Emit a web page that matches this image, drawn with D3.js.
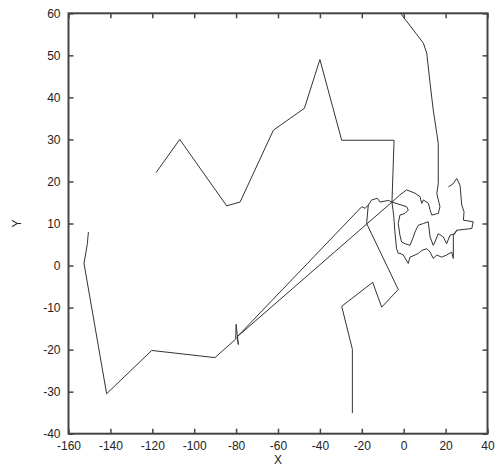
<!DOCTYPE html>
<html>
<head>
<meta charset="utf-8">
<script src="https://cdn.jsdelivr.net/npm/d3@7"></script>
<style>
  body { margin: 0; background: #fff; }
  svg { display: block; font-family: "Liberation Sans", Arial, sans-serif; }
  .frame { fill: none; stroke: #444; stroke-width: 2; }
  .axis path { display: none; }
  .axis line { stroke: #444; stroke-width: 1.5; }
  .axis text { fill: #222; font-size: 12px; }
  .track { fill: none; stroke: #333; stroke-width: 1; stroke-linejoin: round; }
</style>
</head>
<body>
<svg id="chart" width="495" height="476"></svg>
<script>
// tick values
var xTicks = [-160, -140, -120, -100, -80, -60, -40, -20, 0, 20, 40];
var yTicks = [-40, -30, -20, -10, 0, 10, 20, 30, 40, 50, 60];

// tracks, [x, y]
var upperLoop = [[-118.2, 22.1], [-106.9, 30.0], [-84.5, 14.2], [-78.1, 15.1], [-62.2, 32.2],
  [-47.4, 37.4], [-40.0, 49.0], [-29.6, 29.8], [-4.6, 29.8], [-5.6, 15.1], [-4.8, 12.0],
  [-4.2, 8.0], [-3.4, 4.0], [-2.6, 2.9], [-1.8, 2.9], [-0.2, 2.5], [2.2, 0.5], [3.0, 2.0],
  [5.4, 2.5], [7.0, 2.9], [8.6, 3.6], [11.0, 4.0], [12.6, 3.2], [14.1, 1.7], [15.8, 2.5],
  [18.1, 2.0], [20.5, 2.5], [22.9, 3.2], [23.7, 1.7], [23.7, 7.2], [25.3, 8.4], [32.5, 8.8],
  [33.2, 10.4], [28.5, 10.8], [28.8, 12.8], [27.7, 14.4], [26.9, 19.1], [25.3, 20.7],
  [23.5, 19.4], [21.3, 18.7]];

var rightCurve = [[-1.5, 60.0], [9.4, 52.9], [11.0, 50.5], [12.6, 43.3], [14.1, 37.0],
  [15.8, 31.4], [16.5, 29.0], [16.5, 19.5], [15.8, 17.1], [17.3, 14.0], [16.5, 12.4],
  [13.4, 12.0], [12.6, 13.2], [11.8, 14.8], [9.4, 15.6], [8.6, 14.8], [7.8, 16.4],
  [5.4, 17.2], [1.4, 18.0], [-1.8, 16.8], [-5.6, 15.1]];

var lowerLeft = [[-150.5, 8.0], [-151.0, 5.2], [-152.6, 0.5], [-141.8, -30.5],
  [-120.3, -20.2], [-90.1, -21.9], [-80.2, -17.5], [-80.0, -14.0], [-78.9, -18.8],
  [-79.6, -17.0], [-5.6, 15.1]];

var lowerRight = [[-79.6, -17.0], [-20.0, 14.0], [-18.4, 13.6], [-16.9, 14.4], [-17.7, 10.0],
  [-2.6, -5.7], [-10.5, -9.9], [-14.8, -4.0], [-29.6, -9.7], [-24.5, -19.9], [-24.5, -35.1]];

var shortLink = [[-16.9, 14.4], [-15.3, 15.6], [-12.6, 16.0], [-11.3, 15.1], [-7.3, 15.5],
  [-5.6, 15.1]];

var innerLoop = [[-5.6, 15.1], [1.4, 14.0], [2.2, 13.2], [0.6, 12.4], [-1.8, 12.0],
  [-2.6, 10.0], [-1.8, 7.2], [-1.0, 5.6], [0.6, 5.2], [3.0, 4.8], [4.6, 6.8], [5.4, 8.0],
  [7.0, 9.6], [9.4, 10.0], [11.7, 10.4], [12.6, 6.8], [14.1, 4.8], [14.9, 5.6], [16.5, 7.6],
  [18.9, 6.8], [20.5, 5.2], [22.1, 7.2], [24.5, 7.6], [25.3, 8.4]];

var tracks = [upperLoop, rightCurve, lowerLeft, lowerRight, shortLink, innerLoop];

var plotLeft = 68.5, plotRight = 487.5, plotTop = 13.3, plotBottom = 433.7;

var x = d3.scaleLinear().domain([-160, 40]).range([plotLeft, plotRight]);
var y = d3.scaleLinear().domain([-40, 60]).range([plotBottom, plotTop]);

var svg = d3.select("#chart");
svg.append("rect").attr("width", 495).attr("height", 476).attr("fill", "#fff");

var line = d3.line()
  .x(function(d){ return x(d[0]); })
  .y(function(d){ return y(d[1]); });

svg.selectAll("path.track")
  .data(tracks)
  .enter().append("path")
  .attr("class", "track")
  .attr("d", line);

function fmt(d){ return d < 0 ? "-" + Math.abs(d) : String(d); }

svg.append("g").attr("class", "axis")
  .attr("transform", "translate(0," + plotBottom + ")")
  .call(d3.axisBottom(x).tickValues(xTicks).tickSize(-5).tickPadding(8).tickFormat(fmt));
svg.append("g").attr("class", "axis")
  .attr("transform", "translate(0," + plotTop + ")")
  .call(d3.axisTop(x).tickValues(xTicks).tickSize(-5).tickFormat(""));
svg.append("g").attr("class", "axis")
  .attr("transform", "translate(" + plotLeft + ",0)")
  .call(d3.axisLeft(y).tickValues(yTicks).tickSize(-5).tickPadding(8).tickFormat(fmt));
svg.append("g").attr("class", "axis")
  .attr("transform", "translate(" + plotRight + ",0)")
  .call(d3.axisRight(y).tickValues(yTicks).tickSize(-5).tickFormat(""));

svg.append("rect").attr("class", "frame")
  .attr("x", plotLeft).attr("y", plotTop)
  .attr("width", plotRight - plotLeft).attr("height", plotBottom - plotTop);

svg.append("text")
  .attr("x", (plotLeft + plotRight) / 2).attr("y", 464)
  .attr("text-anchor", "middle")
  .style("font-size", "12px").style("fill", "#222")
  .text("X");

svg.append("text")
  .attr("transform", "translate(21," + (plotTop + plotBottom) / 2 + ") rotate(-90)")
  .attr("text-anchor", "middle")
  .style("font-size", "12px").style("fill", "#222")
  .text("Y");
</script>
</body>
</html>
